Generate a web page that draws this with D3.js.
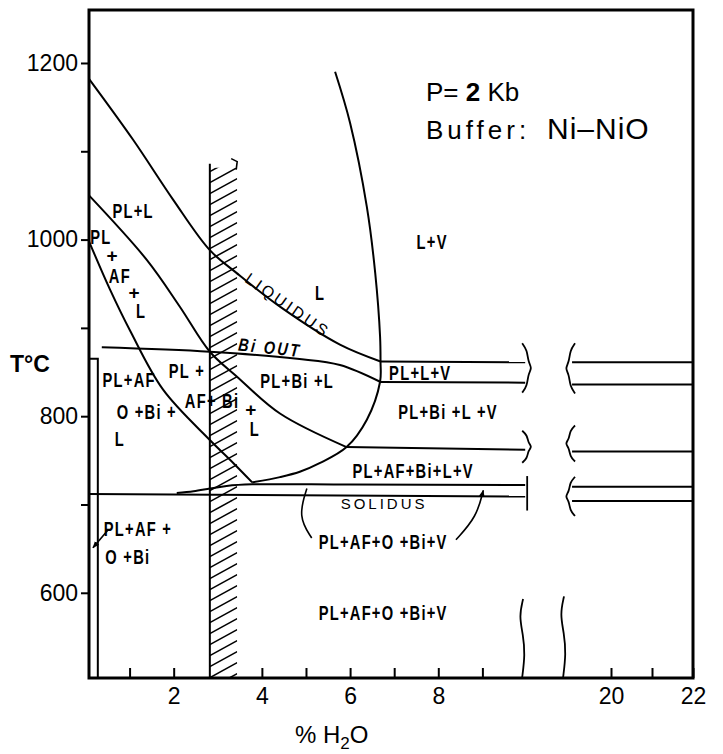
<!DOCTYPE html>
<html>
<head>
<meta charset="utf-8">
<script src="https://cdn.jsdelivr.net/npm/d3@7"></script>
<style>
    body { margin: 0; background: #fff; }
    svg { display: block; }
</style>
</head>
<body>
<div id="chart"></div>
<script>
// phase boundaries as [% H2O, T in degrees C]
const liquidus = [[0.08, 1182], [1.08, 1113], [1.99, 1045], [2.82, 988], [3.43, 962], [4.41, 924], [5.77, 881], [6.69, 862]];
const vaporSaturation = [[5.66, 1190], [6.0, 1132], [6.38, 1037], [6.57, 962], [6.68, 890], [6.69, 862], [6.68, 839], [6.38, 796], [5.92, 765], [5.32, 747], [4.86, 737], [4.41, 731], [3.78, 725]];
const afIn = [[0.08, 1050], [1.39, 977], [2.14, 924], [2.82, 873], [3.43, 845], [4.41, 803], [5.92, 765]];
const oIn = [[0.08, 998], [0.56, 943], [1.01, 897], [1.76, 830], [2.82, 773], [3.35, 747], [3.78, 725]];
const biOut = [[0.37, 878], [2.82, 873], [4.80, 865], [5.77, 858], [6.68, 839]];
const lvTop = [[6.69, 862], [9.97, 861]];
const lvBase = [[6.68, 838.6], [9.97, 838]];
const biVBase = [[5.92, 765], [9.97, 762]];
const vaporSolidus = [[2.07, 713], [2.45, 715], [2.82, 718], [3.2, 721], [3.78, 722.8], [6, 722.5], [9.97, 722]];
const solidus = [[0.08, 712], [9.97, 709]];

// the same isotherms beyond the axis break
const farIsotherms = [861, 836, 760, 720, 704];

// narrow subsolidus strip at the dry side and the shaded band
const stripX = 0.28;
const stripTop = 865;
const hatchBand = [2.82, 3.44];
const hatchTop = 1086;

// leader lines from labels
const leaderUp = [[8.40, 660], [8.87, 686], [9.02, 716]];
const leaderBracket = [[5.13, 662], [4.82, 686], [5.02, 718]];
const leaderStrip = [[0.51, 671], [0.17, 651]];

// axes
const tempTicks = [600, 700, 800, 900, 1000, 1100, 1200];
const tempLabels = [600, 800, 1000, 1200];
const waterTicks = [1, 2, 4, 5, 6, 7, 8, 9];
const waterLabels = [2, 4, 6, 8];
const farTicks = [20, 21, 22];
const farLabels = [20, 22];
const breakNear = 9.97;
const breakFar = 19.05;
const squiggleNear = 9.9;
const squiggleFar = 18.83;
const squiggleTop = 593;

// region labels: text, % H2O, T
const regionLabels = [
    ['PL+L', 1.08, 1033],
    ['PL', 0.35, 1004],
    ['+', 0.60, 982],
    ['AF', 0.78, 959],
    ['+', 1.10, 941],
    ['L', 1.26, 920],
    ['L', 5.32, 940],
    ['L+V', 7.86, 998],
    ['PL+AF', 0.99, 842],
    ['O +Bi +', 1.39, 805],
    ['L', 0.78, 775],
    ['PL +', 2.30, 852],
    ['AF+ Bi', 2.87, 818],
    ['+', 3.75, 808],
    ['L', 3.84, 786],
    ['PL+Bi +L', 4.80, 840],
    ['PL+L+V', 7.59, 850],
    ['PL+Bi +L +V', 8.22, 805],
    ['PL+AF+Bi+L+V', 7.43, 739],
    ['PL+AF+O +Bi+V', 6.75, 658],
    ['PL+AF+O +Bi+V', 6.75, 578],
    ['PL+AF +', 1.19, 673],
    ['O +Bi', 0.96, 641.5]
];

const width = 723;
const height = 754;
const frameBox = { left: 89, right: 693, top: 10, bottom: 678 };
const axisFont = "'Liberation Sans', Arial, Helvetica, sans-serif";

const svg = d3.select('#chart')
  .append('svg')
    .attr('width', width)
    .attr('height', height);

const xNear = d3.scaleLinear().domain([0.08, 10]).range([frameBox.left, 526.5]);
const xFar = d3.scaleLinear().domain([20, 22]).range([611, frameBox.right]);
const y = d3.scaleLinear().domain([503.5, 1260]).range([frameBox.bottom, frameBox.top]);

const smooth = d3.line()
    .x(d => xNear(d[0]))
    .y(d => y(d[1]))
    .curve(d3.curveCatmullRom.alpha(0.5));
const straight = d3.line()
    .x(d => xNear(d[0]))
    .y(d => y(d[1]));

svg.append('defs')
  .append('marker')
    .attr('id', 'head')
    .attr('viewBox', '0 0 10 10')
    .attr('refX', 9)
    .attr('refY', 5)
    .attr('markerWidth', 7)
    .attr('markerHeight', 7)
    .attr('markerUnits', 'userSpaceOnUse')
    .attr('orient', 'auto')
  .append('path')
    .attr('d', 'M0,1 L10,5 L0,9 z')
    .attr('fill', '#000');

svg.select('defs')
  .append('clipPath')
    .attr('id', 'band')
  .append('rect')
    .attr('x', xNear(hatchBand[0]))
    .attr('y', y(hatchTop) + 4)
    .attr('width', xNear(hatchBand[1]) - xNear(hatchBand[0]))
    .attr('height', y(503.5) - y(hatchTop) - 4);

function drawHatch() {
    const g = svg.append('g').attr('stroke', '#000').attr('stroke-width', 1.6);
    const x0 = xNear(hatchBand[0]);
    const x1 = xNear(hatchBand[1]);
    const rows = d3.range(y(hatchTop), y(503.5) + 20, 11);

    g.append('g')
        .attr('clip-path', 'url(#band)')
      .selectAll('line')
      .data(rows)
      .enter()
      .append('line')
        .attr('x1', x0)
        .attr('y1', d => d + 8)
        .attr('x2', x1)
        .attr('y2', d => d - 7);

    g.append('line')
        .attr('x1', x0)
        .attr('x2', x0)
        .attr('y1', y(hatchTop))
        .attr('y2', y(503.5))
        .attr('stroke-width', 2);

    g.append('path')
        .attr('fill', 'none')
        .attr('d', `M${x1 - 6},${y(hatchTop) - 5} L${x1},${y(hatchTop) - 2} L${x1 - 1},${y(hatchTop) + 6}`);
}

function drawBoundaries() {
    const g = svg.append('g')
        .attr('fill', 'none')
        .attr('stroke', '#000')
        .attr('stroke-width', 2);

    [liquidus, vaporSaturation, afIn, oIn, biOut, vaporSolidus].forEach(d => {
        g.append('path').attr('d', smooth(d));
    });
    [lvTop, lvBase, biVBase, solidus].forEach(d => {
        g.append('path').attr('d', straight(d));
    });

    g.selectAll('.far')
      .data(farIsotherms)
      .enter()
      .append('line')
        .attr('x1', xFar(breakFar))
        .attr('x2', xFar(22))
        .attr('y1', d => y(d))
        .attr('y2', d => y(d));

    g.append('path')
        .attr('d', `M${xNear(0.08)},${y(stripTop)} H${xNear(stripX)} V${y(503.5)}`);
}

function braceShape(x, y0, y1, dir) {
    const h = y1 - y0;
    const pts = [[-3, 0], [2, 0.14], [3, 0.38], [7, 0.5], [3, 0.62], [2, 0.86], [-3, 1]]
        .map(p => [x + dir * p[0], y0 + p[1] * h]);
    return d3.line().curve(d3.curveBasis)(pts);
}

function squiggleShape(x, y0, y1) {
    const h = y1 - y0;
    const pts = [[1, 0], [-3, 0.22], [1, 0.45], [3, 0.7], [0, 1]]
        .map(p => [x + p[0], y0 + p[1] * h]);
    return d3.line().curve(d3.curveBasis)(pts);
}

function drawBreaks() {
    const g = svg.append('g')
        .attr('fill', 'none')
        .attr('stroke', '#000')
        .attr('stroke-width', 1.8);
    const xa = xNear(breakNear);
    const xb = xFar(breakFar);

    // liquid + vapour pair
    g.append('path').attr('d', braceShape(xa, y(lvTop[1][1]) - 19, y(lvBase[1][1]) + 10, 1));
    g.append('path').attr('d', braceShape(xb, y(farIsotherms[0]) - 19, y(farIsotherms[1]) + 9, -1));
    // biotite + vapour line
    g.append('path').attr('d', braceShape(xa, y(biVBase[1][1]) - 19, y(biVBase[1][1]) + 13, 1));
    g.append('path').attr('d', braceShape(xb, y(farIsotherms[2]) - 26, y(farIsotherms[2]) + 10, -1));
    // solidus pair
    g.append('line')
        .attr('x1', xa + 2).attr('x2', xa + 2)
        .attr('y1', y(vaporSolidus[6][1]) - 9)
        .attr('y2', y(solidus[1][1]) + 14);
    g.append('path').attr('d', braceShape(xb, y(farIsotherms[3]) - 10, y(farIsotherms[4]) + 15, -1));

    // axis break
    g.append('path').attr('d', squiggleShape(xNear(squiggleNear), y(squiggleTop), frameBox.bottom));
    g.append('path').attr('d', squiggleShape(xFar(squiggleFar), y(squiggleTop + 3), frameBox.bottom));
}

function drawLeaders() {
    const g = svg.append('g')
        .attr('fill', 'none')
        .attr('stroke', '#000')
        .attr('stroke-width', 1.6);
    const curve = d3.line()
        .x(d => xNear(d[0]))
        .y(d => y(d[1]))
        .curve(d3.curveBasis);

    g.append('path').attr('d', curve(leaderUp)).attr('marker-end', 'url(#head)');
    g.append('path').attr('d', curve(leaderBracket));
    g.append('path').attr('d', straight(leaderStrip)).attr('marker-end', 'url(#head)');
}

function drawFrame() {
    svg.append('rect')
        .attr('x', frameBox.left)
        .attr('y', frameBox.top)
        .attr('width', frameBox.right - frameBox.left)
        .attr('height', frameBox.bottom - frameBox.top)
        .attr('fill', 'none')
        .attr('stroke', '#000')
        .attr('stroke-width', 3);
}

function styleAxis(g) {
    g.select('.domain').remove();
    g.selectAll('line').attr('stroke', '#000').attr('stroke-width', 2);
    g.selectAll('text')
        .attr('fill', '#000')
        .style('font-family', axisFont)
        .style('font-size', '23px');
}

function drawAxes() {
    svg.append('g')
        .attr('transform', `translate(${frameBox.left},0)`)
        .call(d3.axisLeft(y)
            .tickValues(tempTicks)
            .tickSize(8)
            .tickPadding(3)
            .tickFormat(d => tempLabels.includes(d) ? d : ''))
        .call(styleAxis);

    svg.append('g')
        .attr('transform', `translate(0,${frameBox.bottom})`)
        .call(d3.axisBottom(xNear)
            .tickValues(waterTicks)
            .tickSizeInner(-10)
            .tickSizeOuter(0)
            .tickPadding(10)
            .tickFormat(d => waterLabels.includes(d) ? d : ''))
        .call(styleAxis);

    svg.append('g')
        .attr('transform', `translate(0,${frameBox.bottom})`)
        .call(d3.axisBottom(xFar)
            .tickValues(farTicks)
            .tickSizeInner(-10)
            .tickSizeOuter(0)
            .tickPadding(10)
            .tickFormat(d => farLabels.includes(d) ? d : ''))
        .call(styleAxis);

    svg.append('text')
        .attr('x', 10)
        .attr('y', 372)
        .style('font-family', axisFont)
        .style('font-size', '23px')
        .style('font-weight', 'bold')
        .text('T°C');

    const xt = svg.append('text')
        .attr('x', 295)
        .attr('y', 743)
        .style('font-family', axisFont)
        .style('font-size', '24px');
    xt.append('tspan').text('% H');
    xt.append('tspan').attr('dy', 6).style('font-size', '17px').text('2');
    xt.append('tspan').attr('dy', -6).text('O');
}

function drawTitle() {
    const p = svg.append('text')
        .attr('x', 426)
        .attr('y', 101)
        .style('font-family', axisFont)
        .style('font-size', '26px');
    p.append('tspan').text('P=');
    p.append('tspan').style('font-weight', 'bold').text(' 2');
    p.append('tspan').text(' Kb');

    svg.append('text')
        .attr('x', 426)
        .attr('y', 139)
        .style('font-family', axisFont)
        .style('font-size', '26px')
        .style('letter-spacing', '4px')
        .text('Buffer:');

    svg.append('text')
        .attr('x', 547)
        .attr('y', 139)
        .style('font-family', axisFont)
        .style('font-size', '30px')
        .style('letter-spacing', '1px')
        .text('Ni–NiO');
}

function drawLabels() {
    const g = svg.append('g')
        .style('font-family', axisFont)
        .style('font-weight', 'bold')
        .style('font-size', '21px')
        .style('letter-spacing', '1.8px')
        .attr('text-anchor', 'middle');

    g.selectAll('text')
      .data(regionLabels)
      .enter()
      .append('text')
        .attr('transform', d => `translate(${xNear(d[1])},${y(d[2])}) scale(${d[0] === '+' ? 1 : 0.7},1)`)
        .attr('dy', '0.36em')
        .style('font-size', d => d[0] === '+' ? '19px' : null)
        .style('letter-spacing', d => d[0] === '+' ? '0px' : null)
        .text(d => d[0]);

    svg.append('text')
        .attr('transform', `translate(${xNear(4.59)},${y(925.7)}) rotate(35)`)
        .attr('text-anchor', 'middle')
        .attr('dy', '0.36em')
        .style('font-family', axisFont)
        .style('font-size', '16px')
        .style('letter-spacing', '3px')
        .text('LIQUIDUS');

    svg.append('text')
        .attr('transform', `translate(${xNear(4.18)},${y(878)}) rotate(6) scale(0.8,1)`)
        .attr('text-anchor', 'middle')
        .attr('dy', '0.36em')
        .style('font-family', axisFont)
        .style('font-size', '18px')
        .style('font-style', 'italic')
        .style('font-weight', 'bold')
        .style('letter-spacing', '3px')
        .text('Bi  OUT');

    svg.append('text')
        .attr('transform', `translate(${xNear(6.77)},${y(700.6)})`)
        .attr('text-anchor', 'middle')
        .attr('dy', '0.36em')
        .style('font-family', axisFont)
        .style('font-size', '15px')
        .style('letter-spacing', '3px')
        .text('SOLIDUS');
}

drawHatch();
drawBoundaries();
drawBreaks();
drawLeaders();
drawFrame();
drawAxes();
drawTitle();
drawLabels();
</script>
</body>
</html>
